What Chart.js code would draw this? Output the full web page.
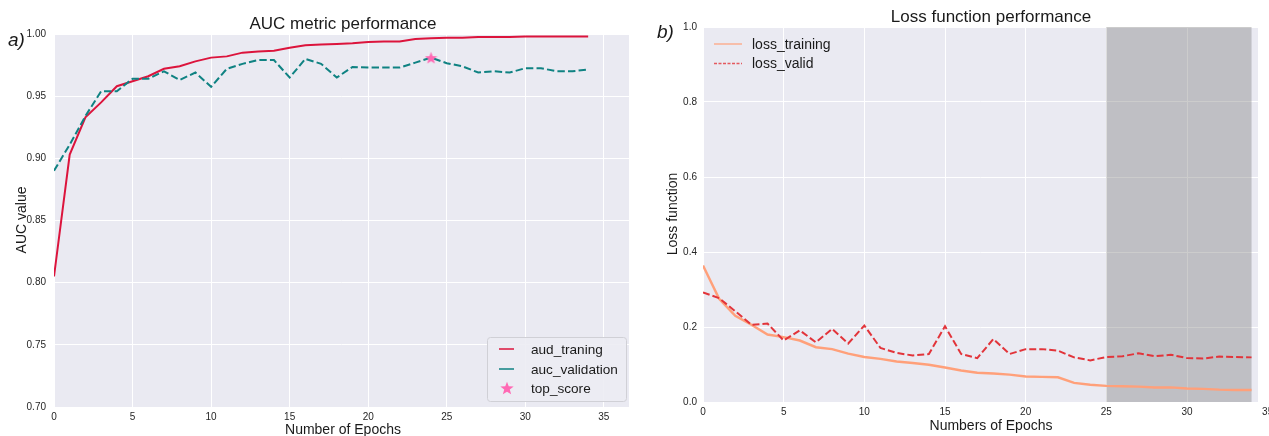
<!DOCTYPE html>
<html><head><meta charset="utf-8">
<script src="https://cdn.jsdelivr.net/npm/chart.js@4.4.1/dist/chart.umd.min.js"></script>
<style>
html,body{margin:0;padding:0;background:#fff;width:1269px;height:436px;overflow:hidden;}
#c1{position:absolute;left:0;top:0;}
#c2{position:absolute;left:640px;top:0;}
</style></head><body>
<canvas id="c1" width="640" height="436"></canvas>
<canvas id="c2" width="629" height="436"></canvas>
<script>
// ---------------- DATA ----------------
const epochs = [0,1,2,3,4,5,6,7,8,9,10,11,12,13,14,15,16,17,18,19,20,21,22,23,24,25,26,27,28,29,30,31,32,33,34];
const aucTraining = [0.805,0.903,0.933,0.945,0.958,0.962,0.966,0.972,0.974,0.978,0.981,0.982,0.985,0.986,0.9865,0.989,0.991,0.9915,0.992,0.9925,0.9935,0.994,0.994,0.996,0.9965,0.997,0.997,0.9975,0.9975,0.9975,0.998,0.998,0.998,0.998,0.998];
const aucValidation = [0.890,0.911,0.934,0.954,0.954,0.964,0.964,0.970,0.963,0.969,0.9575,0.972,0.976,0.979,0.979,0.965,0.980,0.976,0.965,0.9735,0.973,0.973,0.973,0.977,0.981,0.9765,0.974,0.969,0.970,0.969,0.9725,0.9725,0.970,0.970,0.9715];
const lossTraining = [0.364,0.275,0.230,0.206,0.180,0.173,0.164,0.146,0.141,0.129,0.120,0.115,0.108,0.104,0.0996,0.092,0.084,0.078,0.076,0.073,0.068,0.067,0.066,0.051,0.046,0.043,0.042,0.041,0.039,0.039,0.036,0.035,0.033,0.032,0.032];
const lossValid = [0.292,0.277,0.242,0.206,0.209,0.164,0.191,0.159,0.195,0.156,0.204,0.144,0.131,0.124,0.128,0.202,0.128,0.117,0.168,0.128,0.141,0.141,0.137,0.119,0.111,0.120,0.122,0.130,0.122,0.126,0.117,0.116,0.121,0.120,0.119];
const shadeRange = [25, 34];
const labelsA = ['aud_traning','auc_validation','top_score'];
const labelsB = ['loss_training','loss_valid'];
const titleA = 'AUC metric performance', titleB = 'Loss function performance';
const xTitleA = 'Number of Epochs', xTitleB = 'Numbers of Epochs';
const yTitleA = 'AUC value', yTitleB = 'Loss function';

// top score = best validation AUC
let bestIdx = 0;
aucValidation.forEach((v,i)=>{ if (v > aucValidation[bestIdx]) bestIdx = i; });

// ---------------- STYLE ----------------
const FONT = "'Liberation Sans', Arial, Helvetica, sans-serif";
const TXT = '#1a1a1a';
Chart.defaults.font.family = FONT;
Chart.defaults.color = '#262626';
Chart.defaults.animation = false;

function makeStar(size, color){
  const cv = document.createElement('canvas');
  cv.width = size; cv.height = size;
  const c = cv.getContext('2d');
  const cx = size/2, cy = size/2 + size*0.05, R = size/2, r = R*0.42;
  c.beginPath();
  for (let k=0;k<10;k++){
    const a = -Math.PI/2 + k*Math.PI/5;
    const rr = (k%2===0)?R:r;
    c.lineTo(cx + rr*Math.cos(a), cy + rr*Math.sin(a));
  }
  c.closePath(); c.fillStyle = color; c.fill();
  return cv;
}
const starPlot = makeStar(13, '#ff69b4');
const starLegend = makeStar(14, '#ff69b4');

const toXY = (arr) => epochs.map((e,i)=>({x:e, y:arr[i]}));

const bgPlugin = { id:'bg', beforeDraw(chart){ const a=chart.chartArea, c=chart.ctx; c.save(); c.fillStyle='#eaeaf2'; c.fillRect(a.left,a.top,a.right-a.left,a.bottom-a.top); c.restore(); } };

function textPlugin(cfg){ return { id:'texts', afterDraw(chart){
  const c = chart.ctx; c.save(); c.fillStyle = TXT; c.textBaseline = 'alphabetic';
  c.font = `17px ${FONT}`; c.textAlign = 'center'; c.fillText(cfg.title, cfg.tx, cfg.ty);
  c.font = `italic 19px ${FONT}`; c.textAlign = 'left'; c.fillText(cfg.panel, cfg.px, cfg.py);
  c.font = `14px ${FONT}`; c.textAlign = 'center'; c.fillText(cfg.xl, cfg.xx, cfg.xy);
  c.translate(cfg.yx, cfg.yy); c.rotate(-Math.PI/2); c.fillText(cfg.yl, 0, 0);
  c.restore(); } }; }

function tickList(lo, hi, step){ return (scale)=>{ const t=[]; for (let k=0; lo+k*step <= hi+1e-9; k++) t.push({value: +(lo+k*step).toFixed(6)}); scale.ticks = t; }; }

function scales(xmax, xTickMax, ymin, ymax, ystep, ydec, yW, xH, ypad, xpad){
  return {
    x: { type:'linear', min:0, max:xmax,
      afterBuildTicks: tickList(0, xTickMax, 5),
      afterFit: s => { s.height = xH; s.paddingLeft = 0; s.paddingRight = 0; },
      ticks:{ stepSize:5, padding:xpad, maxRotation:0, autoSkip:false, font:{size:10}, color:'#262626', callback:v=>String(v) },
      grid:{ color:'#ffffff', lineWidth:1, drawTicks:false }, border:{display:false} },
    y: { min:ymin, max:ymax,
      afterBuildTicks: tickList(ymin, ymax, ystep),
      afterFit: s => { s.width = yW; },
      ticks:{ stepSize:ystep, padding:ypad, font:{size:10}, color:'#262626', callback:v=>Number(v).toFixed(ydec) },
      grid:{ color:'#ffffff', lineWidth:1, drawTicks:false }, border:{display:false} }
  };
}

// ---------------- CHART A ----------------
const legendA = { id:'legA', afterDraw(chart){
  const c = chart.ctx; c.save();
  const bx=487.5, by=337.5, bw=139, bh=64, r=3;
  c.beginPath(); c.roundRect(bx,by,bw,bh,r);
  c.fillStyle='rgba(236,236,243,0.9)'; c.fill(); c.strokeStyle='#d0d0d6'; c.lineWidth=1; c.stroke();
  const ds = chart.data.datasets;
  const rows=[349,369,388];
  c.font = `13.6px ${FONT}`; c.textBaseline='middle'; c.textAlign='left';
  for (let i=0;i<3;i++){
    const d = ds[i];
    if (i<2){ c.strokeStyle=d.borderColor; c.globalAlpha=0.75; c.lineWidth=2; c.beginPath(); c.moveTo(499,rows[i]); c.lineTo(514,rows[i]); c.stroke(); c.globalAlpha=1; }
    else { c.drawImage(starLegend, 507-7, rows[i]-7); }
    c.fillStyle=TXT; c.fillText(d.label, 531, rows[i]+1);
  }
  c.restore(); } };

new Chart(document.getElementById('c1'), {
  type:'line',
  data:{ datasets:[
    { label:labelsA[0], data:toXY(aucTraining), borderColor:'#dc143c', borderWidth:2, pointRadius:0, tension:0, order:2 },
    { label:labelsA[1], data:toXY(aucValidation), borderColor:'#0f8282', borderWidth:2, borderDash:[7.4,3.2], pointRadius:0, tension:0, order:1 },
    { label:labelsA[2], data:[{x:epochs[bestIdx], y:aucValidation[bestIdx]}], showLine:false, pointStyle:starPlot, pointRadius:6, order:0 }
  ]},
  options:{ responsive:false, devicePixelRatio:1, animation:false,
    layout:{ padding:{ left:0, right:11, top:34, bottom:0 } },
    plugins:{ legend:{display:false}, tooltip:{enabled:false} },
    scales: scales(36.6, 35, 0.70, 1.00, 0.05, 2, 54, 29, 8, 4)
  },
  plugins:[bgPlugin, legendA, textPlugin({title:titleA, tx:343, ty:29, panel:'a)', px:8, py:46, xl:xTitleA, xx:343, xy:434, yl:yTitleA, yx:26, yy:220})]
});

// ---------------- CHART B ----------------
const shadePlugin = { id:'shade', beforeDatasetsDraw(chart){
  const a=chart.chartArea, x=chart.scales.x, c=chart.ctx;
  const x1=x.getPixelForValue(shadeRange[0]), x2=x.getPixelForValue(shadeRange[1]);
  c.save(); c.fillStyle='rgba(128,128,128,0.4)'; c.fillRect(x1,a.top,x2-x1,a.bottom-a.top); c.restore(); } };

const legendB = { id:'legB', afterDraw(chart){
  const c=chart.ctx; c.save();
  const ds=chart.data.datasets; const rows=[44,63.5];
  c.font = `14px ${FONT}`; c.textBaseline='middle'; c.textAlign='left';
  for (let i=0;i<2;i++){
    const d=ds[i];
    c.strokeStyle=d.borderColor; c.lineWidth=1.5; c.globalAlpha=0.8;
    c.setLineDash(i===1?[3,1.5]:[]);
    c.beginPath(); c.moveTo(74,rows[i]); c.lineTo(102,rows[i]); c.stroke();
    c.setLineDash([]); c.globalAlpha=1;
    c.fillStyle=TXT; c.fillText(d.label, 112, rows[i]+1);
  }
  c.restore(); } };

new Chart(document.getElementById('c2'), {
  type:'line',
  data:{ datasets:[
    { label:labelsB[0], data:toXY(lossTraining), borderColor:'#ffa07a', borderWidth:2.5, pointRadius:0, tension:0, order:1 },
    { label:labelsB[1], data:toXY(lossValid), borderColor:'#e2343a', borderWidth:2, borderDash:[7,3], pointRadius:0, tension:0, order:0 }
  ]},
  options:{ responsive:false, devicePixelRatio:1, animation:false,
    layout:{ padding:{ left:0, right:11, top:27, bottom:0 } },
    plugins:{ legend:{display:false}, tooltip:{enabled:false} },
    scales: scales(34.4, 35, 0, 1.0, 0.2, 1, 63, 34, 6, 4)
  },
  plugins:[bgPlugin, shadePlugin, legendB, textPlugin({title:titleB, tx:351, ty:22, panel:'b)', px:17, py:37.5, xl:xTitleB, xx:351, xy:430, yl:yTitleB, yx:37, yy:214})]
});
</script>
</body></html>
